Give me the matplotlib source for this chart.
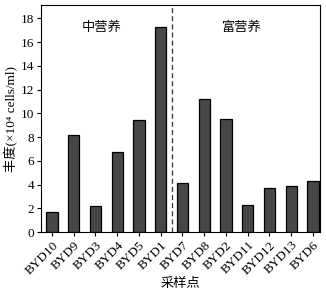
import matplotlib
matplotlib.use('Agg')
import matplotlib.pyplot as plt
import numpy as np

plt.rcParams['font.family'] = ['Liberation Serif', 'Noto Sans CJK SC', 'DejaVu Sans']
plt.rcParams['font.size'] = 9.5

sites = ['BYD10', 'BYD9', 'BYD3', 'BYD4', 'BYD5', 'BYD1', 'BYD7',
         'BYD8', 'BYD2', 'BYD11', 'BYD12', 'BYD13', 'BYD6']
abundance = [1.7, 8.2, 2.2, 6.7, 9.4, 17.3, 4.1, 11.2, 9.5, 2.3, 3.7, 3.9, 4.3]
group_labels = ['中营养', '富营养']

fig = plt.figure(figsize=(3.26, 2.89), dpi=100)
ax = fig.add_axes([0.126, 0.197, 0.856, 0.785])

x = np.arange(len(sites))
ax.bar(x, abundance, width=0.52, color='#474747', edgecolor='black', linewidth=0.9)
ax.axvline(5.5, color='#333333', linestyle=(0, (4, 2.5)), linewidth=0.9)

ax.text(2.3, 17.2, group_labels[0], ha='center', va='center', fontsize=9.5)
ax.text(8.75, 17.2, group_labels[1], ha='center', va='center', fontsize=9.5)

ax.set_xlim(-0.5, 12.33)
ax.set_ylim(0, 19.1)
ax.set_yticks(np.arange(0, 19, 2))
ax.set_xticks(x)
ax.set_xticklabels(sites, rotation=45, ha='right', rotation_mode='anchor')
ax.tick_params(direction='out', length=3, width=0.8, labelsize=9.5, pad=2)

ax.set_ylabel('丰度(×10⁴ cells/ml)', fontsize=9.5, labelpad=2)
ax.set_xlabel('采样点', fontsize=9.5, labelpad=1)
for s in ax.spines.values():
    s.set_linewidth(0.8)

plt.savefig('out.png', dpi=100)
